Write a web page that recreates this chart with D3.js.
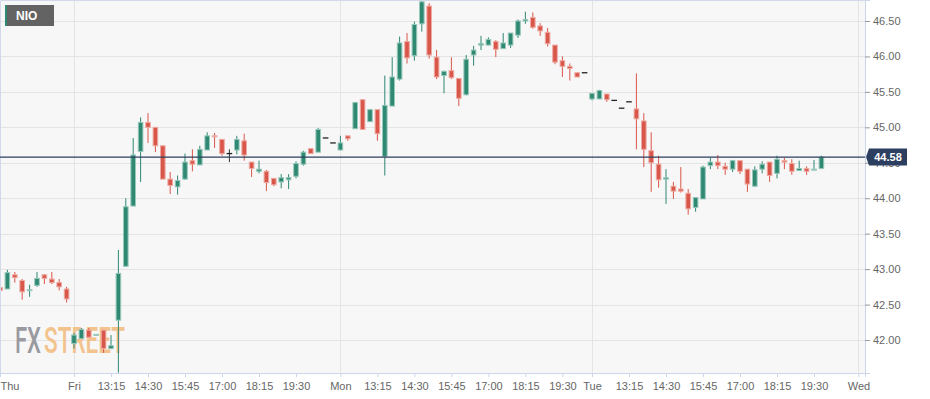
<!DOCTYPE html>
<html>
<head>
<meta charset="utf-8">
<script src="https://cdn.jsdelivr.net/npm/d3@7"></script>
<style>
  body { margin: 0; background: #fff; }
  svg { display: block; font-family: "Liberation Sans", Arial, sans-serif; }
</style>
</head>
<body>
<div id="chart"></div>
<script>
// 15 minute candles, one entry per slot (Thu tail .. Tue close)
const opens = [42.74,42.72,42.92,42.84,42.70,42.77,42.92,42.86,42.81,42.72,
  41.95,42.02,42.14,42.07,42.14,41.88,42.28,43.04,43.89,44.66,45.07,45.00,44.74,44.27,44.16,44.27,44.53,44.47,44.68,44.88,
  44.83,44.63,44.68,44.81,44.51,44.38,44.38,44.28,44.23,44.26,44.31,44.48,44.70,44.65,44.85,44.78,
  44.68,44.88,44.98,45.39,45.08,45.25,44.59,45.30,45.68,46.21,46.01,46.46,46.71,45.99,45.73,45.80,45.69,45.46,46.02,46.16,
  46.16,46.21,46.11,46.16,46.30,46.50,46.55,46.43,46.34,46.16,45.94,45.86,45.77,45.77,
  45.40,45.40,45.47,45.38,45.27,45.36,45.26,45.09,44.67,44.48,44.27,44.17,44.13,44.07,43.87,43.99,44.46,44.51,44.45,44.41,
  44.53,44.41,44.17,44.41,44.51,44.35,44.53,44.49,44.39,44.42,44.40,44.42];
const highs = [42.81,42.99,42.96,42.86,42.78,42.96,42.93,42.96,42.86,42.75,
  42.10,42.17,42.17,42.08,42.14,42.07,43.27,44.00,44.85,45.14,45.20,45.00,44.74,44.37,44.32,44.63,44.69,44.74,44.93,44.92,
  44.83,44.69,44.88,44.91,44.51,44.53,44.40,44.28,44.34,44.34,44.52,44.67,44.70,44.99,44.85,44.78,
  44.88,44.88,45.36,45.39,45.26,45.25,45.73,45.99,46.28,46.33,46.49,46.78,46.75,46.09,45.80,45.99,45.69,46.02,46.15,46.29,
  46.27,46.23,46.33,46.33,46.52,46.63,46.62,46.47,46.40,46.16,46.00,45.90,45.77,45.77,
  45.48,45.53,45.47,45.38,45.27,45.36,45.76,45.20,44.93,44.60,44.41,44.23,44.44,44.13,44.01,44.46,44.57,44.61,44.50,44.54,
  44.53,44.41,44.45,44.52,44.51,44.60,44.57,44.55,44.53,44.45,44.54,44.60];
const lows = [42.60,42.72,42.81,42.57,42.61,42.75,42.79,42.79,42.70,42.53,
  41.88,42.02,42.04,42.07,41.82,41.87,41.54,43.04,43.89,44.23,44.78,44.65,44.27,44.06,44.05,44.26,44.38,44.47,44.68,44.71,
  44.60,44.51,44.62,44.53,44.30,44.35,44.10,44.17,44.14,44.13,44.28,44.46,44.63,44.65,44.85,44.78,
  44.68,44.81,44.98,44.97,45.08,44.81,44.32,45.30,45.66,45.90,45.94,46.35,45.97,45.68,45.48,45.68,45.30,45.45,45.87,46.09,
  46.16,45.99,46.11,46.12,46.26,46.46,46.39,46.29,46.14,45.89,45.71,45.66,45.71,45.77,
  45.38,45.40,45.36,45.38,45.27,45.36,44.69,44.44,44.09,44.15,43.92,43.99,44.08,43.77,43.81,43.99,44.41,44.41,44.33,44.37,
  44.34,44.09,44.16,44.35,44.23,44.28,44.41,44.33,44.39,44.33,44.40,44.41];
const closes = [42.70,42.95,42.88,42.68,42.71,42.87,42.87,42.81,42.75,42.58,
  42.07,42.15,42.04,42.08,41.88,41.92,42.94,43.88,44.61,45.07,45.00,44.74,44.27,44.18,44.25,44.51,44.48,44.69,44.88,44.87,
  44.63,44.63,44.83,44.61,44.42,44.41,44.22,44.19,44.29,44.29,44.49,44.65,44.63,44.97,44.85,44.78,
  44.78,44.84,45.35,44.97,45.25,44.91,45.31,45.71,46.19,45.98,46.45,46.77,46.02,45.71,45.79,45.70,45.41,45.96,46.09,46.18,
  46.24,46.10,46.19,46.33,46.50,46.52,46.41,46.36,46.18,45.92,45.86,45.83,45.71,45.77,
  45.48,45.52,45.39,45.38,45.27,45.36,45.12,44.69,44.50,44.26,44.29,44.10,44.10,43.85,44.01,44.44,44.51,44.46,44.41,44.53,
  44.38,44.20,44.40,44.48,44.32,44.55,44.51,44.38,44.42,44.38,44.41,44.58];

const xTickSlots  = [0, 10, 15, 20, 25, 30, 35, 40, 46, 51, 56, 61, 66, 71, 76, 80, 85, 90, 95, 100, 105, 110, 116];
const xTickLabels = ["Thu","Fri","13:15","14:30","15:45","17:00","18:15","19:30","Mon","13:15","14:30","15:45","17:00","18:15","19:30","Tue","13:15","14:30","15:45","17:00","18:15","19:30","Wed"];
const dayStartSlots = [10, 46, 80, 116];
const yTicks = [42.00, 42.50, 43.00, 43.50, 44.00, 44.50, 45.00, 45.50, 46.00, 46.50];
const symbol = "NIO";
const lastPrice = 44.58;

const W = 930, H = 399;
const plotW = 865, plotH = 373;
const slotW = 7.4;
const green = "#2e8872", greenLight = "#98c8ba";
const red = "#d9564a", redLight = "#eeaaa2";

const candles = opens.map((o, i) => ({ i, o, h: highs[i], l: lows[i], c: closes[i] }));

const x = d3.scaleLinear().domain([0, plotW / slotW]).range([0, plotW]);
const y = d3.scaleLinear().domain([41.535, 46.796]).range([plotH, 0]);

const svg = d3.select("#chart").append("svg").attr("width", W).attr("height", H);

svg.append("rect").attr("x", 0).attr("y", 0).attr("width", plotW).attr("height", plotH).attr("fill", "#f7f7f7");

svg.append("defs").append("clipPath").attr("id", "clip")
  .append("rect").attr("x", 0).attr("y", 0).attr("width", plotW).attr("height", plotH);

// grid
svg.append("g").selectAll("line").data(yTicks).enter().append("line")
  .attr("x1", 0).attr("x2", plotW)
  .attr("y1", d => Math.round(y(d)) + 0.5).attr("y2", d => Math.round(y(d)) + 0.5)
  .attr("stroke", "#e4e4e4");
svg.append("g").selectAll("line").data(dayStartSlots).enter().append("line")
  .attr("y1", 0).attr("y2", plotH)
  .attr("x1", d => Math.round(x(d)) + 0.5).attr("x2", d => Math.round(x(d)) + 0.5)
  .attr("stroke", "#e4e4e4");

// watermark
svg.append("text").attr("x", 15).attr("y", 353)
  .attr("font-family", "Roboto, sans-serif").attr("font-size", 36).attr("font-weight", 500)
  .attr("textLength", 26).attr("lengthAdjust", "spacingAndGlyphs")
  .attr("fill", "#9a9aa0").text("FX");
svg.append("text").attr("x", 44).attr("y", 353)
  .attr("font-family", "Roboto, sans-serif").attr("font-size", 36).attr("font-weight", 500)
  .attr("textLength", 81).attr("lengthAdjust", "spacingAndGlyphs")
  .attr("fill", "#f3c38d").text("STREET");

// candles
const g = svg.append("g").attr("clip-path", "url(#clip)");
const col = d => d.c > d.o ? green : d.c < d.o ? red : "#333";
const colLight = d => d.c > d.o ? greenLight : d.c < d.o ? redLight : "#333";

g.selectAll("line.wick").data(candles.filter(d => d.h > d.l)).enter().append("line")
  .attr("class", "wick")
  .attr("x1", d => x(d.i)).attr("x2", d => x(d.i))
  .attr("y1", d => y(d.h)).attr("y2", d => y(d.l))
  .attr("stroke", col).attr("stroke-width", 1);

g.selectAll("rect.body").data(candles.filter(d => d.c !== d.o)).enter().append("rect")
  .attr("class", "body")
  .attr("x", d => x(d.i) - 2.3).attr("width", 4.6)
  .attr("y", d => y(Math.max(d.o, d.c)))
  .attr("height", d => Math.max(1, Math.abs(y(d.o) - y(d.c))))
  .attr("fill", col).attr("stroke", colLight).attr("stroke-width", 1);

g.selectAll("line.flat").data(candles.filter(d => d.c === d.o)).enter().append("line")
  .attr("class", "flat")
  .attr("x1", d => x(d.i) - 2.8).attr("x2", d => x(d.i) + 2.8)
  .attr("y1", d => y(d.c)).attr("y2", d => y(d.c))
  .attr("stroke", "#222").attr("stroke-width", 1.3);

// plot border
svg.append("path")
  .attr("d", `M0.5,${plotH} V0.5 H${plotW + 0.5} V${plotH}`)
  .attr("fill", "none").attr("stroke", "#d3d9e8");

// y axis
const yAxis = svg.append("g").attr("transform", `translate(${plotW},0)`)
  .call(d3.axisRight(y).tickValues(yTicks).tickFormat(d3.format(".2f")).tickSize(5).tickPadding(3));
yAxis.select(".domain").attr("stroke", "#ccd6eb");
yAxis.selectAll(".tick line").attr("stroke", "#999");
yAxis.selectAll("text").attr("fill", "#666").attr("font-size", 11).attr("font-family", "Liberation Sans, Arial, sans-serif");

// x axis
const xAxis = svg.append("g").attr("transform", `translate(0,${plotH})`)
  .call(d3.axisBottom(x).tickValues(xTickSlots).tickFormat((d, k) => xTickLabels[k]).tickSize(4).tickPadding(5));
xAxis.select(".domain").attr("stroke", "#ccd6eb");
xAxis.selectAll(".tick line").attr("stroke", "#ccd6eb");
xAxis.selectAll("text").attr("fill", "#666").attr("font-size", 11).attr("font-family", "Liberation Sans, Arial, sans-serif");
xAxis.selectAll(".tick").filter(d => d === 0).select("text").attr("text-anchor", "start").attr("x", 0);

// last price line + label (covers the 44.50 tick label, as in the source)
const yp = y(lastPrice);
svg.append("line").attr("x1", 0).attr("x2", plotW).attr("y1", yp).attr("y2", yp)
  .attr("stroke", "#2c3e5e").attr("stroke-width", 1.3);
svg.append("path")
  .attr("d", `M${plotW + 1},${yp} L${plotW + 4},${yp - 8.5} H${plotW + 42} V${yp + 8.5} H${plotW + 4} Z`)
  .attr("fill", "#2c3f60");
svg.append("text").attr("x", plotW + 23).attr("y", yp + 4)
  .attr("text-anchor", "middle").attr("fill", "#fff").attr("font-size", 11).attr("font-weight", "bold")
  .text(lastPrice.toFixed(2));

// symbol badge
svg.append("rect").attr("x", 5).attr("y", 5).attr("width", 49).attr("height", 21).attr("fill", "#636363");
svg.append("rect").attr("x", 5).attr("y", 5).attr("width", 2).attr("height", 21).attr("fill", green);
svg.append("text").attr("x", 16).attr("y", 20).attr("fill", "#fff")
  .attr("font-size", 12).attr("font-weight", "bold").text(symbol);
</script>
</body>
</html>
